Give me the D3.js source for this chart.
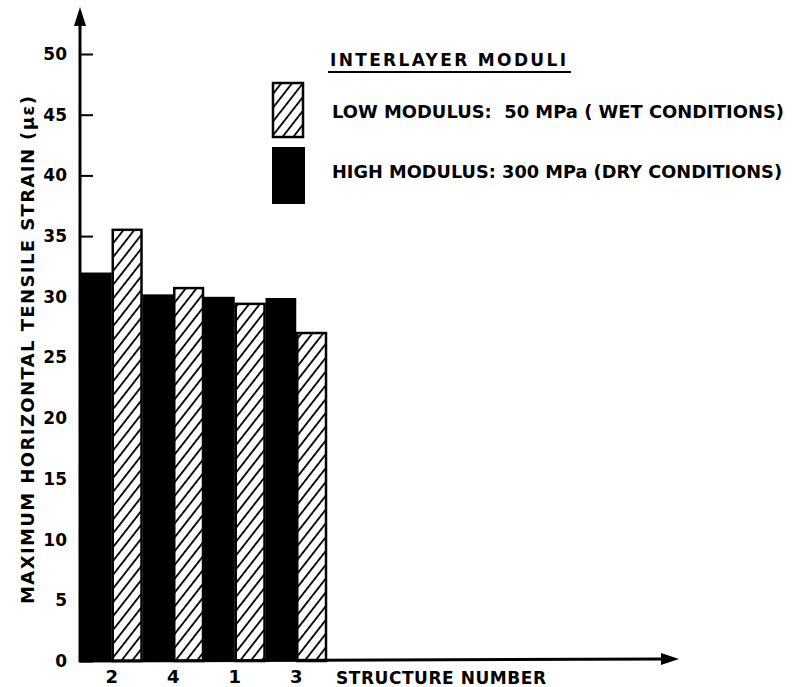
<!DOCTYPE html>
<html>
<head>
<meta charset="utf-8">
<script src="https://cdn.jsdelivr.net/npm/d3@7"></script>
<style>
  html, body { margin: 0; padding: 0; background: #fff; }
  svg { display: block; }
  text { font-family: "DejaVu Sans", sans-serif; font-weight: bold; fill: #000; white-space: pre; }
</style>
</head>
<body>
<div id="chart"></div>
<script>
// ---- data ----
const categories = ["2", "4", "1", "3"];
const highModulus = [32.0, 30.2, 30.0, 29.9];   // 300 MPa (dry) – solid black
const lowModulus  = [35.6, 30.8, 29.5, 27.1];   // 50 MPa (wet) – hatched
const seriesKeys = ["high", "low"];
const yTicks = [0, 5, 10, 15, 20, 25, 30, 35, 40, 45, 50];
const yTitle = "MAXIMUM HORIZONTAL TENSILE STRAIN (\u03BC\u03B5)";
const xTitle = "STRUCTURE NUMBER";
const legendTitle = "INTERLAYER MODULI";
const legendLabels = ["LOW MODULUS:  50 MPa ( WET CONDITIONS)", "HIGH MODULUS: 300 MPa (DRY CONDITIONS)"];

const W = 805, H = 687;
const svg = d3.select("#chart").append("svg").attr("width", W).attr("height", H);

const defs = svg.append("defs");
const pat = defs.append("pattern")
  .attr("id", "hatch").attr("patternUnits", "userSpaceOnUse")
  .attr("width", 8.5).attr("height", 8.5)
  .attr("patternTransform", "rotate(38)");
pat.append("rect").attr("width", 8.5).attr("height", 8.5).attr("fill", "#fff");
pat.append("line").attr("x1", 0).attr("y1", 0).attr("x2", 0).attr("y2", 8.5)
  .attr("stroke", "#000").attr("stroke-width", 3.6);

const axisX = 80, baseY = 661;
const y = d3.scaleLinear().domain([0, 50]).range([baseY, 54]);
const x = d3.scaleBand().domain(categories).range([axisX + 1, 327]).padding(0);
const xs = d3.scaleBand().domain(seriesKeys).range([0, x.bandwidth()]).padding(0);

const rows = categories.map((c, i) => ({ cat: c, high: highModulus[i], low: lowModulus[i] }));

// bars
const g = svg.append("g");
rows.forEach(r => {
  g.append("rect")
    .attr("x", x(r.cat) + xs("high"))
    .attr("y", y(r.high))
    .attr("width", xs.bandwidth())
    .attr("height", baseY - y(r.high))
    .attr("fill", "#000");
});
rows.forEach(r => {
  g.append("rect")
    .attr("x", x(r.cat) + xs("low") + 1)
    .attr("y", y(r.low) + 1)
    .attr("width", xs.bandwidth() - 2)
    .attr("height", baseY - y(r.low) - 1)
    .attr("fill", "url(#hatch)")
    .attr("stroke", "#000").attr("stroke-width", 2.5);
});

// y axis
const yAxis = d3.axisLeft(y).tickValues(yTicks).tickSizeInner(-13).tickSizeOuter(0).tickPadding(13);
const ya = svg.append("g").attr("transform", `translate(${axisX},0)`).call(yAxis);
ya.select(".domain").remove();
ya.selectAll(".tick line").attr("stroke", "#000").attr("stroke-width", 2);
ya.selectAll(".tick text").style("font-size", "17px").style("font-family", "DejaVu Sans").style("font-weight", "bold");

// x axis
const xAxis = d3.axisBottom(x).tickSize(0).tickPadding(9);
const xa = svg.append("g").attr("transform", `translate(0,${baseY})`).call(xAxis);
xa.select(".domain").remove();
xa.selectAll(".tick text").style("font-size", "18px").style("font-family", "DejaVu Sans").style("font-weight", "bold");

// axis lines with arrows
svg.append("line").attr("x1", axisX).attr("y1", baseY + 1).attr("x2", axisX).attr("y2", 22)
  .attr("stroke", "#000").attr("stroke-width", 3);
svg.append("path").attr("d", `M${axisX},7 L${axisX - 6},26 L${axisX + 6},26 Z`).attr("fill", "#000");
svg.append("line").attr("x1", axisX - 1).attr("y1", baseY).attr("x2", 664).attr("y2", baseY - 2)
  .attr("stroke", "#000").attr("stroke-width", 3);
svg.append("path").attr("d", `M679,${baseY - 2} L661,${baseY - 8} L661,${baseY + 4} Z`).attr("fill", "#000");

// axis titles
svg.append("text")
  .attr("transform", `translate(34,350) rotate(-90)`)
  .attr("text-anchor", "middle")
  .attr("textLength", 508).attr("lengthAdjust", "spacing")
  .style("font-size", "18px")
  .text(yTitle);

svg.append("text")
  .attr("x", 336).attr("y", 684)
  .attr("textLength", 210).attr("lengthAdjust", "spacing")
  .style("font-size", "17px")
  .text(xTitle);

// legend
svg.append("text").attr("x", 330).attr("y", 66)
  .attr("textLength", 236).attr("lengthAdjust", "spacing")
  .style("font-size", "17px").text(legendTitle);
svg.append("line").attr("x1", 328).attr("x2", 571).attr("y1", 72).attr("y2", 72)
  .attr("stroke", "#000").attr("stroke-width", 2);

svg.append("rect").attr("x", 273).attr("y", 83).attr("width", 30).attr("height", 54)
  .attr("fill", "url(#hatch)").attr("stroke", "#000").attr("stroke-width", 2.5);
svg.append("rect").attr("x", 272).attr("y", 147).attr("width", 33).attr("height", 57)
  .attr("fill", "#000");

svg.append("text").attr("x", 332).attr("y", 118)
  .attr("textLength", 452).attr("lengthAdjust", "spacingAndGlyphs")
  .style("font-size", "18px").text(legendLabels[0]);
svg.append("text").attr("x", 332).attr("y", 178)
  .attr("textLength", 450).attr("lengthAdjust", "spacingAndGlyphs")
  .style("font-size", "18px").text(legendLabels[1]);
</script>
</body>
</html>
